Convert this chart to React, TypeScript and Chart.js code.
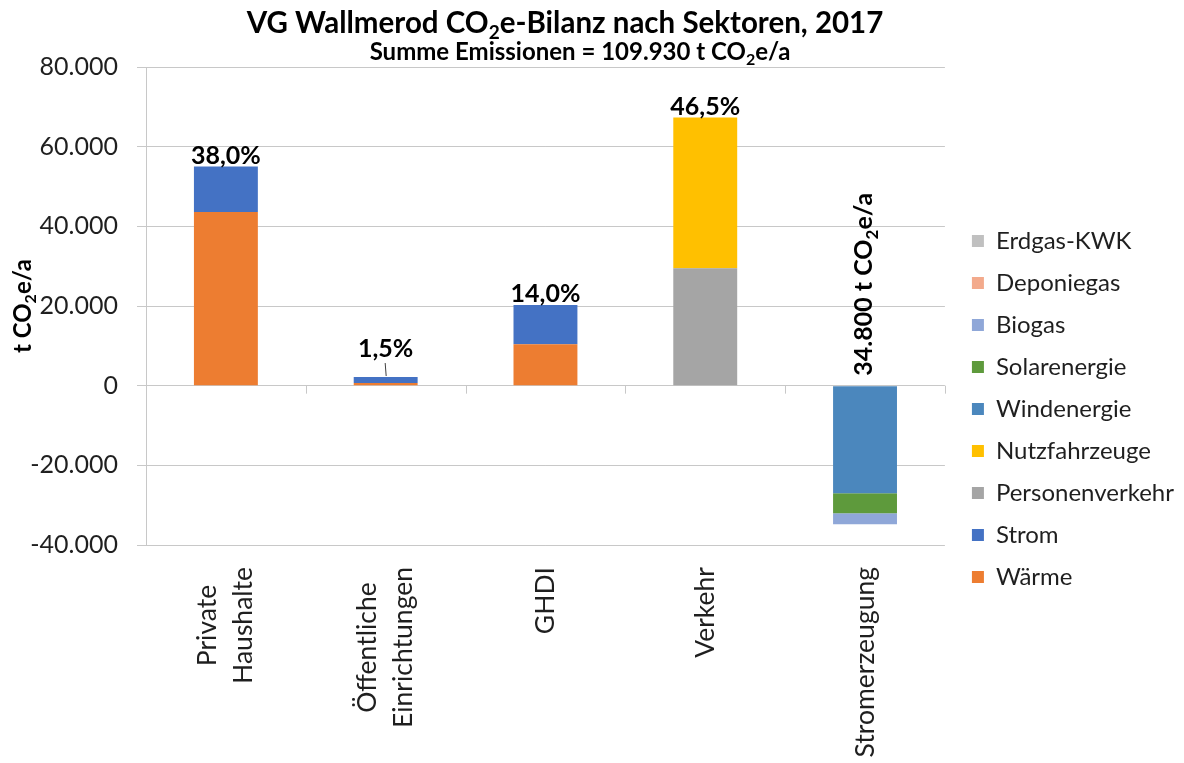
import React, { useEffect, useRef } from 'react';
import { Chart, registerables } from 'chart.js';

Chart.register(...registerables);

// ---------- data ----------
const categories: string[][] = [
  ['Private', 'Haushalte'],
  ['Öffentliche', 'Einrichtungen'],
  ['GHDI'],
  ['Verkehr'],
  ['Stromerzeugung'],
];

const waerme = [43600, 700, 10400, 0, 0];
const strom = [11400, 1470, 9860, 0, 0];
const personenverkehr = [0, 0, 0, 29500, 0];
const nutzfahrzeuge = [0, 0, 0, 37800, 0];
const windenergie = [0, 0, 0, 0, -27000];
const solarenergie = [0, 0, 0, 0, -5000];
const biogas = [0, 0, 0, 0, -2800];
const deponiegas = [0, 0, 0, 0, 0];
const erdgasKwk = [0, 0, 0, 0, 0];

const seriesNames = [
  'Wärme',
  'Strom',
  'Personenverkehr',
  'Nutzfahrzeuge',
  'Windenergie',
  'Solarenergie',
  'Biogas',
  'Deponiegas',
  'Erdgas-KWK',
];
const seriesValues = [
  waerme,
  strom,
  personenverkehr,
  nutzfahrzeuge,
  windenergie,
  solarenergie,
  biogas,
  deponiegas,
  erdgasKwk,
];

const yTicks = [-40000, -20000, 0, 20000, 40000, 60000, 80000];

const titleText = 'VG Wallmerod CO|2|e-Bilanz nach Sektoren, 2017';
const subtitlePrefix = 'Summe Emissionen = ';
const unitText = ' t CO|2|e/a';
const yAxisTitle = 't CO|2|e/a';

// ---------- styles ----------
const seriesColors = [
  '#ed7d31',
  '#4472c4',
  '#a5a5a5',
  '#ffc000',
  '#4b87bd',
  '#5e9a3c',
  '#8fa7d8',
  '#f3aa8c',
  '#c0c0c0',
];
const FONT = 'Lato';
const gridColor = '#c8c8c8';
const textColor = '#1f1f1f';

const formatDE = (n: number) => {
  const s = Math.round(Math.abs(n))
    .toString()
    .replace(/\B(?=(\d{3})+(?!\d))/g, '.');
  return (n < 0 ? '-' : '') + s;
};

type Seg = { t: string; sub: boolean };
const parseRich = (s: string): Seg[] =>
  s.split('|').map((t, i) => ({ t, sub: i % 2 === 1 })).filter((x) => x.t.length > 0);

function drawRich(
  ctx: CanvasRenderingContext2D,
  segs: Seg[],
  x: number,
  y: number,
  size: number,
  bold: boolean,
  align: 'left' | 'center'
) {
  const f = (s: number) => `${bold ? 'bold ' : ''}${s}px ${FONT}`;
  const subSize = Math.round(size * 0.66);
  let w = 0;
  for (const s of segs) {
    ctx.font = f(s.sub ? subSize : size);
    w += ctx.measureText(s.t).width;
  }
  let cx = align === 'center' ? x - w / 2 : x;
  ctx.textAlign = 'left';
  ctx.textBaseline = 'alphabetic';
  for (const s of segs) {
    ctx.font = f(s.sub ? subSize : size);
    ctx.fillText(s.t, cx, y + (s.sub ? size * 0.22 : 0));
    cx += ctx.measureText(s.t).width;
  }
}

const legendShiftPlugin = {
  id: 'legendShift',
  afterLayout(chart: any) {
    const lg = chart.legend;
    if (lg) {
      lg.left += 9;
      lg.right += 9;
    }
  },
};

const overlayPlugin = {
  id: 'overlay',
  afterDraw(chart: any) {
    const ctx: CanvasRenderingContext2D = chart.ctx;
    const xs = chart.scales.x;
    const ys = chart.scales.y;
    const area = chart.chartArea;
    const n = categories.length;
    const posSum = categories.map((_, i) =>
      seriesValues.reduce((a, s) => a + Math.max(0, s[i]), 0)
    );
    const negSum = categories.map((_, i) =>
      seriesValues.reduce((a, s) => a + Math.min(0, s[i]), 0)
    );
    const grossTotal = posSum.reduce((a, b) => a + b, 0);
    const netTotal = grossTotal + negSum.reduce((a, b) => a + b, 0);

    ctx.save();
    // ticks on the zero line between categories
    const y0 = ys.getPixelForValue(0);
    ctx.strokeStyle = gridColor;
    ctx.lineWidth = 1;
    for (let i = 0; i < n; i++) {
      const xb =
        i < n - 1
          ? (xs.getPixelForValue(i) + xs.getPixelForValue(i + 1)) / 2
          : area.right;
      const px = Math.round(xb) + 0.5;
      ctx.beginPath();
      ctx.moveTo(px, y0);
      ctx.lineTo(px, y0 + 8);
      ctx.stroke();
    }

    // category labels (rotated, lines centred on each other)
    ctx.fillStyle = textColor;
    ctx.font = `26.5px ${FONT}`;
    const lineH = 36;
    const labelTop = area.bottom + 22;
    categories.forEach((lines, i) => {
      const cx = xs.getPixelForValue(i);
      const maxW = Math.max(...lines.map((l) => ctx.measureText(l).width));
      const cy = labelTop + maxW / 2;
      lines.forEach((l, k) => {
        const lx = cx + (k - (lines.length - 1) / 2) * lineH;
        ctx.save();
        ctx.translate(lx, cy);
        ctx.rotate(-Math.PI / 2);
        ctx.textAlign = 'center';
        ctx.textBaseline = 'middle';
        ctx.fillText(l, 0, 0);
        ctx.restore();
      });
    });

    // value labels
    ctx.fillStyle = '#000';
    categories.forEach((_, i) => {
      const cx = xs.getPixelForValue(i);
      if (posSum[i] > 0) {
        const top = ys.getPixelForValue(posSum[i]);
        const pct = ((posSum[i] / grossTotal) * 100).toFixed(1).replace('.', ',') + '%';
        ctx.font = `bold 25px ${FONT}`;
        ctx.textAlign = 'center';
        ctx.textBaseline = 'alphabetic';
        const small = y0 - top < 20;
        if (small) {
          ctx.fillText(pct, cx, top - 20);
          ctx.strokeStyle = '#404040';
          ctx.beginPath();
          ctx.moveTo(cx - 0.5, top - 14);
          ctx.lineTo(cx + 0.5, top - 1);
          ctx.stroke();
        } else {
          ctx.fillText(pct, cx, top - 3);
        }
      }
      if (negSum[i] < 0 && posSum[i] === 0) {
        ctx.save();
        ctx.translate(cx + 7, y0 - 10);
        ctx.rotate(-Math.PI / 2);
        drawRich(ctx, parseRich(formatDE(-negSum[i]) + unitText), 0, 0, 25, true, 'left');
        ctx.restore();
      }
    });

    // titles
    ctx.fillStyle = '#000';
    drawRich(ctx, parseRich(titleText), 565, 33, 29.5, true, 'center');
    drawRich(
      ctx,
      parseRich(subtitlePrefix + formatDE(netTotal) + unitText),
      580,
      60,
      24,
      true,
      'center'
    );

    // y axis title
    ctx.save();
    ctx.translate(31, (area.top + area.bottom) / 2);
    ctx.rotate(-Math.PI / 2);
    drawRich(ctx, parseRich(yAxisTitle), 0, 0, 24, true, 'center');
    ctx.restore();

    ctx.restore();
  },
};

export default function App() {
  const ref = useRef<HTMLCanvasElement | null>(null);
  useEffect(() => {
    if (!ref.current) return;
    Chart.defaults.font.family = FONT;
    const chart = new Chart(ref.current, {
      type: 'bar',
      data: {
        labels: categories.map((c) => c.join(' ')),
        datasets: seriesNames.map((name, k) => ({
          label: name,
          data: seriesValues[k],
          backgroundColor: seriesColors[k],
          borderWidth: 0,
          categoryPercentage: 1,
          barPercentage: 0.4,
        })),
      },
      options: {
        responsive: false,
        animation: false,
        devicePixelRatio: 1,
        layout: { padding: { top: 67, left: 0, right: 9, bottom: 12 } },
        plugins: {
          legend: {
            position: 'right',
            reverse: true,
            labels: {
              font: { size: 24, family: FONT },
              color: textColor,
              boxWidth: 12,
              boxHeight: 12,
              padding: 18,
            },
          },
          tooltip: { enabled: false },
          title: { display: false },
        },
        scales: {
          x: {
            stacked: true,
            grid: { display: false },
            border: { display: false },
            ticks: { display: false },
            afterFit: (s: any) => {
              s.height = 206;
            },
          },
          y: {
            stacked: true,
            min: yTicks[0],
            max: yTicks[yTicks.length - 1],
            ticks: {
              stepSize: yTicks[1] - yTicks[0],
              font: { size: 25, family: FONT },
              color: textColor,
              padding: 19,
              callback: (v: any) => formatDE(Number(v)),
            },
            grid: { color: gridColor, tickLength: 9 },
            border: { color: gridColor },
            afterFit: (s: any) => {
              s.width = 146;
            },
          },
        },
      } as any,
      plugins: [legendShiftPlugin, overlayPlugin],
    });
    return () => chart.destroy();
  }, []);
  return (
    <div style={{ position: 'absolute', left: 0, top: 0, width: 1184, height: 763, background: '#fff' }}>
      <canvas ref={ref} width={1184} height={763} style={{ display: 'block' }} />
    </div>
  );
}
